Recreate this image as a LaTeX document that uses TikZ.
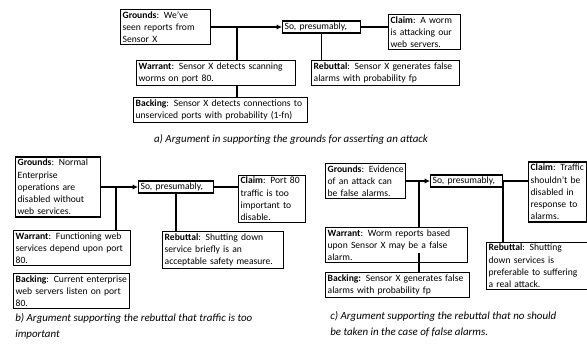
\documentclass[tikz,border=0pt]{standalone}
\usepackage{fontspec}
\setmainfont{Carlito}
\usepackage{tikz}
\usetikzlibrary{arrows.meta}

\begin{document}
\begin{tikzpicture}[x=0.75pt,y=-0.75pt]
\tikzstyle{argbox}=[draw, line width=1pt, anchor=west, align=left, inner sep=1.5pt,
  font=\fontsize{7.2}{9.2}\selectfont]
\tikzstyle{caption}=[font=\fontsize{8.2}{12}\selectfont\itshape, align=left, inner sep=0pt]
\tikzstyle{link}=[line width=1pt]
\useasboundingbox (0,0) rectangle (587,347);

% a) grounds for asserting an attack
\node[argbox, text width=64.5pt] (ga) at (120,27) {\textbf{Grounds}: We’ve\\seen reports from\\Sensor X};
\node[argbox, text width=55.5pt] (sa) at (282,27) {So, presumably,};
\node[argbox, text width=51pt] (ca) at (388,32) {\textbf{Claim}: A worm\\is attacking our\\web servers.};
\node[argbox, text width=116pt] (wa) at (136,73) {\textbf{Warrant}: Sensor X detects scanning\\worms on port 80.};
\node[argbox, text width=108pt] (ra) at (311,73) {\textbf{Rebuttal}: Sensor X generates false\\alarms with probability fp};
\node[argbox, text width=127.5pt] (ba) at (133,110) {\textbf{Backing}: Sensor X detects connections to\\unserviced ports with probability (1-fn)};
\coordinate (ja) at (237,27);
\draw[link, -{Latex[length=4pt,width=4pt]}] (ga.east) -- (sa.west);
\draw[link] (sa.east) -- (sa.east -| ca.west);
\draw[link] (ja) -- (ja |- wa.north);
\draw[link] (sa.south) -- (sa.south |- ra.north);
\draw[link] (ja |- wa.south) -- (ja |- ba.north);
\node[caption, anchor=center] (capa) at (291,139) {a) Argument in supporting the grounds for asserting an attack};

% b) rebuttal: traffic is too important
\node[argbox, text width=60.75pt] (gb) at (15,187) {\textbf{Grounds}: Normal\\Enterprise\\operations are\\disabled without\\web services.};
\node[argbox, text width=53pt] (sb) at (138,187) {So, presumably,};
\node[argbox, text width=47pt] (cb) at (238,199) {\textbf{Claim}: Port 80\\traffic is too\\important to\\disable.};
\node[argbox, text width=84.75pt] (wb) at (13,248) {\textbf{Warrant}: Functioning web\\services depend upon port\\80.};
\node[argbox, text width=87.75pt] (rb) at (162,250) {\textbf{Rebuttal}: Shutting down\\service briefly is an\\acceptable safety measure.};
\node[argbox, text width=84pt] (bb) at (13,291) {\textbf{Backing}: Current enterprise\\web servers listen on port\\80.};
\coordinate (jb) at (116,187);
\draw[link, -{Latex[length=4pt,width=4pt]}] (gb.east) -- (sb.west);
\draw[link] (sb.east) -- (sb.east -| cb.west);
\draw[link] (jb) -- (jb |- wb.north);
\draw[link] (sb.south) -- (sb.south |- rb.north);
\node[caption, anchor=north west] (capb) at (15,313) {b) Argument supporting the rebuttal that traffic is too\\important};

% c) rebuttal: no action on false alarms
\node[argbox, text width=57pt] (gc) at (325,181) {\textbf{Grounds}: Evidence\\of an attack can\\be false alarms.};
\node[argbox, text width=51pt] (sc) at (430,181) {So, presumably,};
\node[argbox, text width=40.5pt] (cc) at (528,192) {\textbf{Claim}: Traffic\\shouldn’t be\\disabled in\\response to\\alarms.};
\node[argbox, text width=103.5pt] (wc) at (325,245) {\textbf{Warrant}: Worm reports based\\upon Sensor X may be a false\\alarm.};
\node[argbox, text width=72.75pt] (rc) at (486,266) {\textbf{Rebuttal}: Shutting\\down services is\\preferable to suffering\\a real attack.};
\node[argbox, text width=105pt] (bc) at (325,285) {\textbf{Backing:} Sensor X generates false\\alarms with probability fp};
\coordinate (jc) at (419,181);
\coordinate (kc) at (503,181);
\draw[link, -{Latex[length=4pt,width=4pt]}] (gc.east) -- (sc.west);
\draw[link] (sc.east) -- (sc.east -| cc.west);
\draw[link] (jc) -- (jc |- wc.north);
\draw[link] (kc) -- (kc |- rc.north);
\draw[link] (419,253) -- (jc |- bc.north);
\node[caption, anchor=north west] (capc) at (330,311) {c) Argument supporting the rebuttal that no should\\be taken in the case of false alarms.};
\end{tikzpicture}
\end{document}
